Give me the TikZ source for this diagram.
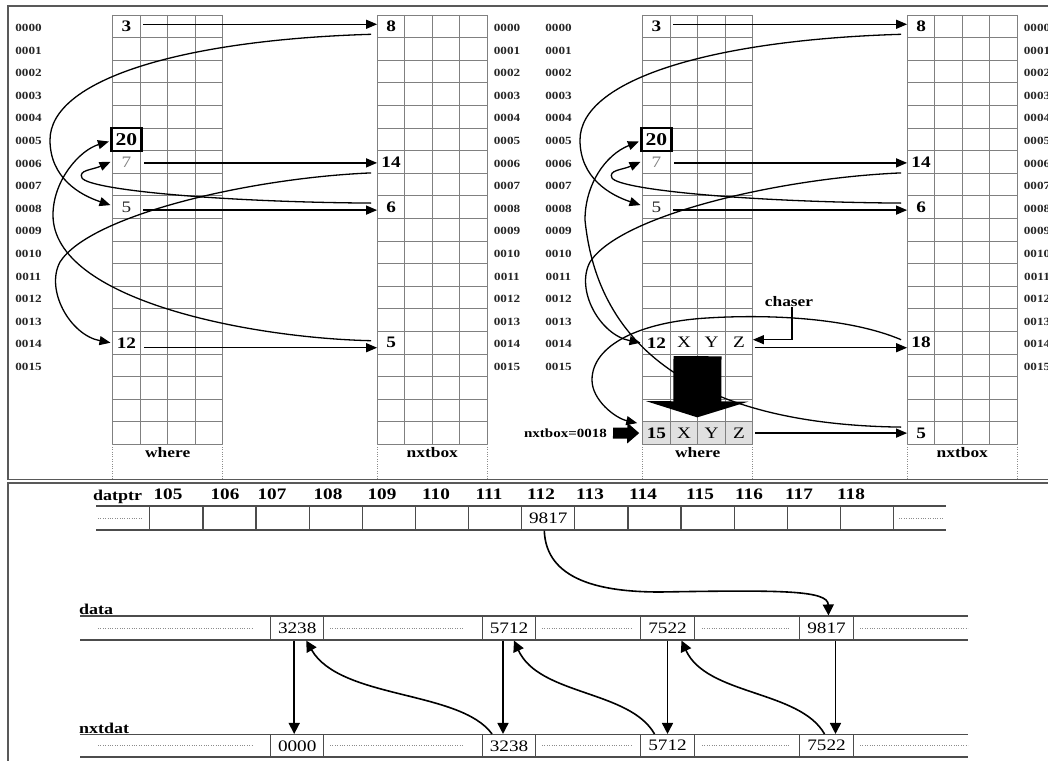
\documentclass[tikz,border=0pt]{standalone}
\usepackage{fontspec}
\setmainfont{Liberation Serif}[FakeStretch=1.2]
\usetikzlibrary{arrows.meta, calc}
\newcommand{\addr}[1]{\ifnum#1<10 000#1\else 00#1\fi}
\tikzset{
  gridline/.style={draw=black!50, line width=0.9pt},
  frame/.style={draw=black!65, line width=1.5pt},
  tabline/.style={draw=black!70, line width=1.1pt},
  filler/.style={draw=black!45, line width=0.8pt, dash pattern=on 0.8pt off 1.6pt},
  rowlbl/.style={font=\fontsize{11}{11}\selectfont\bfseries, text=black!85, inner sep=0pt},
  cell/.style={inner sep=0pt, minimum width=27.5pt, minimum height=22.6pt,
    font=\fontsize{16}{16}\selectfont\bfseries},
  plaincell/.style={cell, font=\fontsize{16}{16}\selectfont},
  grey/.style={fill=black!12, draw=black!50, line width=0.9pt},
  gridname/.style={font=\fontsize{14.5}{15}\selectfont\bfseries, inner sep=0pt},
  arr/.style={-{Triangle[length=11pt,width=9pt]}, line width=1.3pt},
  darr/.style={-{Triangle[length=11pt,width=11pt]}, line width=1.6pt},
  bigarrow/.style={-{Triangle[length=16pt,width=102pt]}, line width=48pt},
  fatarrow/.style={-{Triangle[length=12pt,width=20pt]}, line width=11pt},
  datcell/.style={draw=black!70, line width=1.1pt, inner sep=0pt, minimum width=53.3pt,
    minimum height=24pt, font=\fontsize{16}{16}\selectfont},
  toplbl/.style={font=\fontsize{16}{16}\selectfont\bfseries, inner sep=0pt},
  rowname/.style={font=\fontsize{15}{15}\selectfont\bfseries, inner sep=1pt, anchor=south west},
}

\begin{document}
\begin{tikzpicture}[x=1pt, y=-1pt]
\useasboundingbox (0,0) rectangle (1048,760);
\clip (0,0) rectangle (1048,760);

% frames
\draw[frame] (8,6) rectangle (1070,479.5);
\draw[frame] (8,483) rectangle (1070,790);

% the two memory pictures
\foreach \p/\dx in {L/0, R/530} {
\begin{scope}[xshift=\dx pt]
  \foreach \gx/\name in {112.7/where, 377.3/nxtbox} {
    \foreach \r in {0,...,19}
      \draw[gridline] (\gx,15+22.6*\r) -- ++(110,0);
    \foreach \c in {0,...,4}
      \draw[gridline] (\gx+27.5*\c,15) -- (\gx+27.5*\c,444.4);
    \draw[filler] (\gx,444.4) -- (\gx,479);
    \draw[filler] (\gx+110,444.4) -- (\gx+110,479);
    \node[gridname] at (\gx+55,453) {\name};
  }
  \foreach \r in {0,...,15} {
    \node[rowlbl] at (28.5,27.8+22.6*\r) {\addr{\r}};
    \node[rowlbl] at (507,27.8+22.6*\r) {\addr{\r}};
  }

  \node[cell] (\p-w3) at (126.45,26.3) {3};
  \node[cell, draw, line width=2.6pt, minimum width=30.5pt, minimum height=23pt,
        font=\fontsize{18}{18}\selectfont\bfseries] (\p-w20) at (126.45,139.5) {20};
  \node[plaincell, text=black!50] (\p-w7) at (126.45,161.9) {7};
  \node[plaincell, text=black!85] (\p-w5) at (126.45,207.1) {5};
  \node[cell] (\p-w12) at (126.45,342.7) {12};
  \node[cell] (\p-n8) at (391.05,26.3) {8};
  \node[cell] (\p-n14) at (391.05,161.9) {14};
  \node[cell] (\p-n6) at (391.05,207.1) {6};

  \draw[arr] ([xshift=3pt,yshift=2pt]\p-w3.east) -- ([yshift=2pt]\p-n8.west);
  \draw[arr] ([xshift=4pt,yshift=-1pt]\p-w7.east) -- ([yshift=-1pt]\p-n14.west);
  \draw[arr] ([xshift=3pt,yshift=-3pt]\p-w5.east) -- ([yshift=-3pt]\p-n6.west);

  \draw[arr] ([xshift=-6pt,yshift=-8pt]\p-n8.west) .. controls (180,40) and (50,80) .. (50,140)
    .. controls (50,178) and (80,195) .. ([xshift=-2pt,yshift=2pt]\p-w5.west);
  \draw[arr] ([xshift=-6pt,yshift=-11pt]\p-n14.west) .. controls (250,178) and (90,215) .. (60,262)
    .. controls (45,290) and (70,335) .. ([xshift=-2pt]\p-w12.west);
  \draw[arr] ([xshift=-6pt,yshift=4pt]\p-n6.west) .. controls (220,202) and (90,190) .. (82,178)
    .. controls (78,170) and (92,170) .. ([xshift=-2pt]\p-w7.west);
\end{scope}
}

% left: before
\node[cell] (L-n5) at (391.05,342.7) {5};
\draw[arr] ([xshift=4pt,yshift=-5pt]L-w12.east) -- ([yshift=-5pt]L-n5.west);
\draw[arr] ([xshift=-6pt,yshift=2pt]L-n5.west) .. controls (250,338) and (53,300) .. (53,215)
  .. controls (53,180) and (80,150) .. ([xshift=-1pt,yshift=-2pt]L-w20.west);

% right: after
\begin{scope}[xshift=530pt]
  \node[cell] (R-n18) at (391.05,342.7) {18};
  \node[cell] (R-n5) at (391.05,433.1) {5};
  \node[plaincell] (R-x1) at (153.95,342.7) {X};
  \node[plaincell] (R-y1) at (181.45,342.7) {Y};
  \node[plaincell] (R-z1) at (208.95,342.7) {Z};
  \node[cell, grey] (R-w15) at (126.45,433.1) {15};
  \node[plaincell, grey] (R-x2) at (153.95,433.1) {X};
  \node[plaincell, grey] (R-y2) at (181.45,433.1) {Y};
  \node[plaincell, grey] (R-z2) at (208.95,433.1) {Z};

  \node[gridname] (chaser) at (259,301.7) {chaser};
  \node[font=\fontsize{12.5}{13}\selectfont\bfseries, anchor=east, inner sep=0pt] (nbx) at (77,433) {nxtbox=0018};

  \draw[arr] ([xshift=2pt,yshift=-5pt]R-z1.east) -- ([yshift=-5pt]R-n18.west);
  \draw[arr] ([xshift=3pt]chaser.south) |- ([yshift=3pt]R-z1.east);
  \draw[arr] ([xshift=2pt]R-z2.east) -- (R-n5.west);

  \draw[arr] ([xshift=-6pt,yshift=6pt]R-n5.west) .. controls (200,425) and (70,370) .. (55,220)
    .. controls (55,185) and (75,155) .. ([xshift=-1pt,yshift=-2pt]R-w20.west);
  \draw[arr] ([xshift=-6pt,yshift=3pt]R-n18.west) .. controls (320,318) and (240,314) .. (177,318)
    .. controls (110,322) and (62,345) .. (62,380)
    .. controls (62,400) and (85,418) .. ([xshift=-5pt,yshift=10pt]R-w15.west);

  \draw[bigarrow] ([yshift=-2pt]R-y1.south west) -- ([yshift=4pt]R-y2.north west);
  \draw[fatarrow] ([xshift=6pt]nbx.east) -- ([xshift=-3pt]R-w15.west);
\end{scope}

% datptr
\node[toplbl, anchor=west, font=\fontsize{15}{15}\selectfont\bfseries] (datptr) at (93,497) {datptr};
\draw[tabline] (96,506) -- (946,506);
\draw[tabline] (96,530) -- (946,530);
\foreach \i [count=\k from 0] in {105,...,118}
  \node[datcell] (p\i) at (149.8+53.13*\k+26.57,518) {\ifnum\i=112 9817\fi};
\draw[filler] (98,518) -- (142,518);
\draw[filler] (899,518) -- (944,518);
\foreach \i/\lx in {105/168,106/225,107/272,108/328,109/382,110/436,111/489,
                    112/541,113/590,114/643,115/700,116/749,117/799,118/851}
  \node[toplbl] (n\i) at (\lx,494) {\i};

% data and nxtdat
\node[rowname] (datalbl) at (78,616) {data};
\draw[tabline] (80,616) -- (968,616);
\draw[tabline] (80,640) -- (968,640);
\node[rowname] (nxtlbl) at (78,734.5) {nxtdat};
\draw[tabline] (80,734.5) -- (968,734.5);
\draw[tabline] (80,757) -- (968,757);
\foreach \v/\cx in {3238/297.2, 5712/509, 7522/667.5, 9817/826.5}
  \node[datcell] (d\v) at (\cx,628) {\v};
\foreach \v/\cx in {0000/297.2, 3238/509, 5712/667.5, 7522/826.5}
  \node[datcell, minimum height=22.5pt] (x\v) at (\cx,745.75) {\v};
\foreach \y in {628,745.75} {
  \draw[filler] (98,\y) -- (252,\y);
  \draw[filler] (330,\y) -- (463,\y);
  \draw[filler] (542,\y) -- (631,\y);
  \draw[filler] (702,\y) -- (789,\y);
  \draw[filler] (860,\y) -- (968,\y);
}

\draw[darr] ([xshift=-3pt]d3238.south) -- ([xshift=-3pt]x0000.north);
\draw[darr] ([xshift=-6pt]d5712.south) -- ([xshift=-6pt]x3238.north);
\draw[darr] (d7522.south) -- (x5712.north);
\draw[darr] ([xshift=9pt]d9817.south) -- ([xshift=9pt]x7522.north);

\draw[darr] ([xshift=-17pt]x3238.north) .. controls +(-32,-44) and +(34,59) .. ([xshift=9pt]d3238.south);
\draw[darr] ([xshift=-13pt]x5712.north) .. controls +(-25,-44) and +(25,55) .. ([xshift=5pt]d5712.south);
\draw[darr] ([xshift=-2pt]x7522.north) .. controls +(-25,-44) and +(25,55) .. ([xshift=14pt]d7522.south);

\draw[darr] ([xshift=-4pt]p112.south) .. controls (546,580) and (600,592) .. (660,592)
  .. controls (780,590) and (828,590) .. ([xshift=2pt]d9817.north);
\end{tikzpicture}
\end{document}
